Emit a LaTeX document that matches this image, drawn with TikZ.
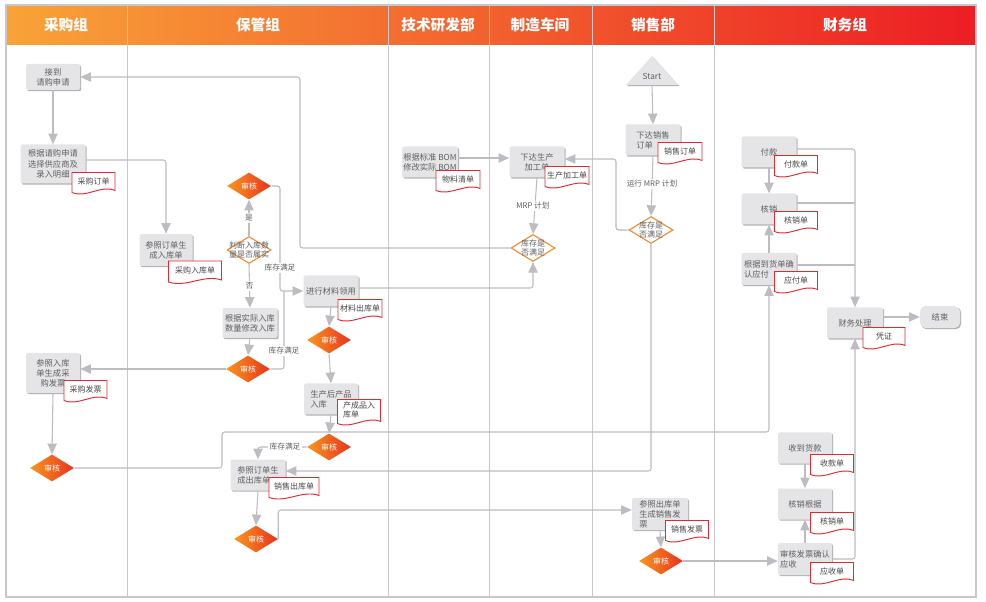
\documentclass[tikz,border=0pt]{standalone}
\usepackage{fontspec}
\setmainfont{Noto Sans CJK SC}
\usetikzlibrary{arrows.meta,shapes.geometric,shadows,calc}
\definecolor{lgray}{RGB}{188,188,193}
\definecolor{lanegray}{RGB}{200,200,204}
\definecolor{boxfill}{RGB}{229,229,231}
\definecolor{txt}{RGB}{95,95,98}
\definecolor{doctxt}{RGB}{70,70,72}
\definecolor{docred}{RGB}{228,40,48}
\definecolor{hdrL}{RGB}{248,163,56}
\definecolor{hdrM}{RGB}{242,108,44}
\definecolor{hdrR}{RGB}{236,30,36}
\definecolor{dOr}{RGB}{248,150,30}
\definecolor{dRd}{RGB}{234,50,30}
\definecolor{decor}{RGB}{245,135,40}
\newcommand\docn[6]{%
 \draw[docline] ({#2-#4/2},{#3-#5/2}) -- ({#2+#4/2},{#3-#5/2}) -- ({#2+#4/2},{#3+#5/2-3}) .. controls ({#2+#4/6},{#3+#5/2-9}) and ({#2-#4/6},{#3+#5/2+5}) .. ({#2-#4/2},{#3+#5/2-1}) -- cycle;
 \node[doctext] (#1) at (#2,{#3-2}) {#6};}
\begin{document}
\begin{tikzpicture}[x=0.75pt,y=-0.75pt,
 wh/.style 2 args={minimum width=#1*0.75pt, minimum height=#2*0.75pt},
 box/.style={rectangle, rounded corners=1.5pt, fill=boxfill, inner sep=1pt, text=txt,
   font=\fontsize{6.2}{7.6}\selectfont, align=center,
   drop shadow={shadow xshift=0.9pt, shadow yshift=-0.9pt, fill=black!30, opacity=1}},
 sh/.style={diamond, wh={44}{27}, inner sep=0pt, left color=dOr, right color=dRd,
   text=white, font=\fontsize{6}{7}\selectfont},
 dec/.style={diamond, wh={44}{27}, inner sep=0pt, draw=decor, line width=0.8pt, fill=white},
 dectext/.style={text=txt, font=\fontsize{6}{7.2}\selectfont, align=center, inner sep=0pt},
 doctext/.style={text=doctxt, font=\fontsize{6}{7.4}\selectfont, align=left, inner sep=0pt},
 docline/.style={draw=docred, line width=0.7pt, fill=white},
 ln/.style={draw=lgray, line width=0.8pt, rounded corners=2pt},
 arr/.style={ln, -{Triangle[length=8pt,width=7pt]}},
 lab/.style={text=txt, font=\fontsize{5.8}{7}\selectfont, fill=white, inner sep=1pt},
 hdr/.style={text=white, font=\fontsize{11}{13}\selectfont\bfseries}]
\useasboundingbox (0,0) rectangle (986,602);
% lanes
\shade[left color=hdrL, middle color=hdrM, right color=hdrR] (6,5) rectangle (976,45);
\foreach \x in {127,388,489,592,714}{
  \draw[lanegray, line width=0.7pt] (\x,5) -- (\x,597);}
\draw[lanegray, line width=0.8pt] (6,5) rectangle (976,597);
\node[hdr] (h1) at (66,25) {采购组};
\node[hdr] (h2) at (258,25) {保管组};
\node[hdr] (h3) at (438,25) {技术研发部};
\node[hdr] (h4) at (540,25) {制造车间};
\node[hdr] (h5) at (653,25) {销售部};
\node[hdr] (h6) at (845,25) {财务组};
% boxes
\node[box, wh={54}{26}] (jiedao) at (53,77) {接到\\请购申请};
\node[box, wh={65}{39}] (genju1) at (53,164) {根据请购申请\\选择供应商及\\录入明细};
\node[box, wh={54}{40}] (canfa) at (53,373) {参照入库\\单生成采\\购发票};
\node[box, wh={53}{32}] (canru) at (166,250) {参照订单生\\成入库单};
\node[box, wh={55}{30}] (xiugai) at (250,323) {根据实际入库\\数量修改入库};
\node[box, wh={55}{31}] (lingyong) at (331,291) {进行材料领用};
\node[box, wh={54}{31}, align=left] (chanpin) at (331,399) {生产后产品\\入库};
\node[box, wh={55}{31}, align=left] (chuku) at (258,475) {参照订单生\\成出库单};
\node[box, wh={55}{31}] (bom) at (430,162) {根据标准 BOM\\修改实际 BOM};
\node[box, wh={55}{31}] (shengchan) at (537,162) {下达生产\\加工单};
\node[box, wh={55}{31}, align=left] (xiaoshou) at (653,140) {下达销售\\订单};
\node[box, wh={56}{32}, align=left] (fapiao) at (660,514) {参照出库单\\生成销售发\\票};
\node[box, wh={55}{31}] (fukuan) at (769,152) {付款};
\node[box, wh={55}{31}] (hexiao) at (769,209) {核销};
\node[box, wh={55}{32}, align=left] (yingfu) at (769,269) {根据到货单确\\认应付};
\node[box, wh={56}{31}] (caiwu) at (855,323) {财务处理};
\node[box, wh={40}{22}, rounded corners=4pt] (jieshu) at (940,317) {结束};
\node[box, wh={54}{31}] (shouhuo) at (805,448) {收到货款};
\node[box, wh={54}{31}] (hexiaogj) at (805,504) {核销根据};
\node[box, wh={54}{32}, align=left] (shenying) at (805,559) {审核发票确认\\应收};
% start triangle
\path[fill=boxfill, drop shadow={shadow xshift=0.9pt, shadow yshift=-0.9pt, fill=black!30, opacity=1}] (626,85) -- (652,56) -- (678,85) -- cycle;
\node[text=txt, font=\fontsize{6.2}{7}\selectfont, inner sep=0pt] (start) at (652,76) {Start};
\coordinate (startb) at (652,85);
% diamonds
\node[sh] (shenhe1) at (249,186) {审核};
\node[dec] (judge) at (249,250) {};
\node[sh] (shenhe2) at (248,369) {审核};
\node[sh] (shenhe0) at (52,468) {审核};
\node[sh] (shenhe3) at (329,340) {审核};
\node[sh] (shenhe4) at (329,447) {审核};
\node[sh] (shenhe5) at (256,539) {审核};
\node[sh] (shenhe6) at (661,561) {审核};
\node[dec] (kcm) at (533,248) {};
\node[dec] (kcs) at (651,230) {};
% connectors
\draw[arr] (jiedao.south) -- (genju1.north);
\draw[arr] (genju1.east |- 0,160) -| (canru.north);
\draw[arr] (kcm.west) -- (300,248) |- (jiedao.east);
\draw[arr] (judge.north) -- node[lab]{是} (shenhe1.south);
\draw[arr] (judge.south) -- node[lab]{否} (xiugai.north);
\draw[arr] (xiugai.south) -- (shenhe2.north);
\draw[arr] (shenhe2.west) -- (shenhe2.west -| canfa.east);
\draw[arr] (canfa.south) -- (shenhe0.north);
\draw[arr] (shenhe0.east) -| (222,432) -| (yingfu.south);
\draw[arr] (shenhe1.east) -| (280,291) -- (lingyong.west);
\draw[ln] (shenhe2.east) -| (284,291);
\draw[arr] (lingyong.east |- 0,288) -| (kcm.south);
\draw[arr] (lingyong.south) -- (shenhe3.north);
\draw[arr] (shenhe3.south) -- (chanpin.north);
\draw[arr] (chanpin.south) -- (shenhe4.north);
\draw[arr] (shenhe4.west) -| (chuku.north);
\draw[arr] (kcs.south) |- (chuku.east |- 0,471);
\draw[arr] (chuku.south) -- (shenhe5.north);
\draw[arr] (shenhe5.east) |- (fapiao.west |- 0,510);
\draw[arr] (bom.east |- 0,158) -- (shengchan.west |- 0,158);
\draw[arr] (kcs.west) -| (616,159) -- (shengchan.east |- 0,159);
\draw[arr] (shengchan.south) -- (kcm.north);
\draw[arr] (startb) -- (xiaoshou.north);
\draw[arr] (xiaoshou.south) -- (kcs.north);
\draw[arr] (fapiao.south) -- (shenhe6.north);
\draw[arr] (shenhe6.east) -- (shenhe6.east -| shenying.west);
\draw[arr] (fukuan.south) -- (hexiao.north);
\draw[arr] (yingfu.north) -- (hexiao.south);
\draw[arr] (fukuan.east |- 0,149) -| (caiwu.north);
\draw[ln] (hexiao.east |- 0,203) -- (855,203);
\draw[ln] (yingfu.east |- 0,265) -- (855,265);
\draw[arr] (caiwu.east |- 0,317) -- (jieshu.west);
\draw[arr] (shouhuo.south) -- (hexiaogj.north);
\draw[arr] (shenying.north) -- (hexiaogj.south);
\draw[arr] (shenying.east) -| (caiwu.south);
% labels
\node[lab] (l1) at (280,268) {库存满足};
\node[lab] (l2) at (284,351) {库存满足};
\node[lab] (l3) at (285,447) {库存满足};
\node[lab] (l4) at (533,206) {MRP 计划};
\node[lab] (l5) at (652,184) {运行 MRP 计划};
% decision texts
\node[dectext] (judget) at (judge) {判断入库数\\量是否属实};
\node[dectext] (kcmt) at (kcm) {库存是\\否满足};
\node[dectext] (kcst) at (kcs) {库存是\\否满足};
% documents
\docn{d1}{93.5}{183}{43}{21}{采购订单}
\docn{d2}{195}{272}{53}{22}{采购入库单}
\docn{d3}{85.5}{391}{43}{21}{采购发票}
\docn{d4}{360}{310}{44}{21}{材料出库单}
\docn{d5}{359}{412}{43}{25}{产成品入\\库单}
\docn{d6}{294}{488}{50}{21}{销售出库单}
\docn{d7}{458}{181}{44}{21}{物料清单}
\docn{d8}{567}{177}{44}{21}{生产加工单}
\docn{d9}{680}{153}{44}{21}{销售订单}
\docn{d10}{687}{531}{43}{21}{销售发票}
\docn{d11}{796}{166}{43}{21}{付款单}
\docn{d12}{796}{222}{43}{21}{核销单}
\docn{d13}{796}{282}{43}{21}{应付单}
\docn{d14}{884}{338}{42}{21}{凭证}
\docn{d15}{832}{465}{43}{21}{收款单}
\docn{d16}{832}{523}{43}{21}{核销单}
\docn{d17}{832}{573}{43}{21}{应收单}
\end{tikzpicture}
\end{document}
